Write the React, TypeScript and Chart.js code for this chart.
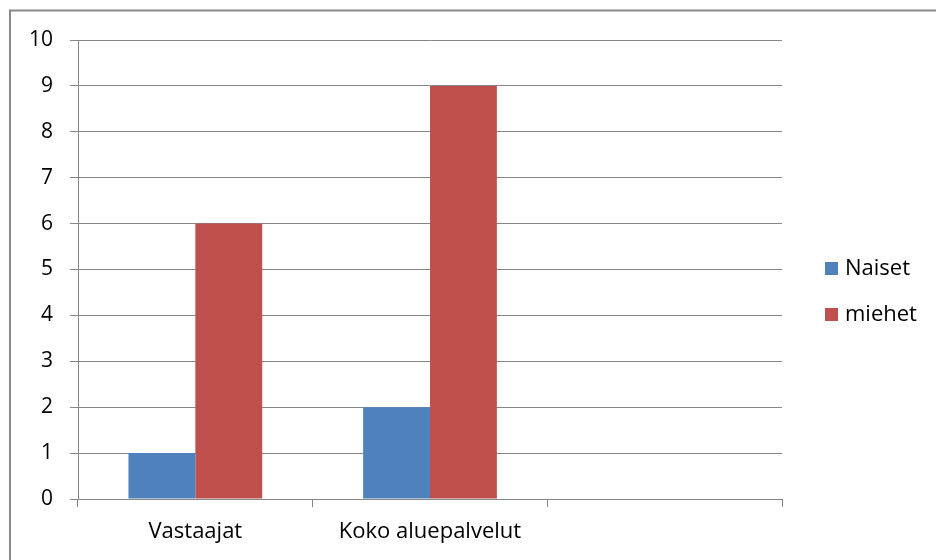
import React, { useEffect, useRef } from "react";
import { Chart, registerables } from "chart.js";

Chart.register(...registerables);

const categories = ["Vastaajat", "Koko aluepalvelut", ""];
const naiset = [1, 2, 0];
const miehet = [6, 9, 0];
const seriesNames = ["Naiset", "miehet"];
const seriesColors = ["#4F81BD", "#C0504D"];
const yTicks = [0, 1, 2, 3, 4, 5, 6, 7, 8, 9, 10];

const FONT = "'Open Sans', sans-serif";

const framePlugin = {
  id: "frame",
  beforeDraw(chart: any) {
    const ctx = chart.ctx;
    ctx.save();
    ctx.fillStyle = "#ffffff";
    ctx.fillRect(0, 0, chart.width, chart.height);
    ctx.strokeStyle = "#8a8a8a";
    ctx.lineWidth = 2;
    ctx.beginPath();
    ctx.moveTo(10, chart.height);
    ctx.lineTo(10, 10.5);
    ctx.lineTo(chart.width, 10.5);
    ctx.stroke();
    ctx.restore();
  },
  afterDraw(chart: any) {
    const ctx = chart.ctx;
    ctx.save();
    ctx.font = `22px ${FONT}`;
    ctx.textBaseline = "middle";
    ctx.fillStyle = "#000";
    const ys = [268, 314];
    chart.data.datasets.forEach((ds: any, i: number) => {
      ctx.fillStyle = ds.backgroundColor;
      ctx.fillRect(825, ys[i] - 6, 13, 13);
      ctx.fillStyle = "#000";
      ctx.fillText(ds.label, 845, ys[i] + 1);
    });
    ctx.restore();
  },
};

export default function App() {
  const ref = useRef<HTMLCanvasElement>(null);
  useEffect(() => {
    if (!ref.current) return;
    const chart = new Chart(ref.current, {
      type: "bar",
      data: {
        labels: categories,
        datasets: [
          { label: seriesNames[0], data: naiset, backgroundColor: seriesColors[0] },
          { label: seriesNames[1], data: miehet, backgroundColor: seriesColors[1] },
        ],
      },
      options: {
        responsive: false,
        animation: false,
        devicePixelRatio: 1,
        layout: { padding: { left: 0, top: 40, right: 154, bottom: 0 } },
        plugins: { legend: { display: false }, tooltip: { enabled: false } },
        datasets: { bar: { categoryPercentage: 0.57, barPercentage: 1 } },
        scales: {
          x: {
            afterFit: (s: any) => { s.height = 61; },
            grid: {
              offset: true,
              drawOnChartArea: false,
              drawTicks: true,
              tickLength: 8,
              color: "#868686",
            },
            border: { color: "#868686", width: 1 },
            ticks: { color: "#000", font: { family: FONT, size: 22 }, padding: 12, maxRotation: 0 },
          },
          y: {
            min: 0,
            max: 10,
            afterFit: (s: any) => { s.width = 78; },
            afterBuildTicks: (s: any) => { s.ticks = yTicks.map((v) => ({ value: v })); },
            grid: { color: "#868686", tickLength: 8 },
            border: { color: "#868686", width: 1 },
            ticks: { color: "#000", font: { family: FONT, size: 21 }, padding: 17 },
          },
        },
      },
      plugins: [framePlugin],
    });
    return () => chart.destroy();
  }, []);
  return (
    <div style={{ position: "fixed", left: 0, top: 0, width: 936, height: 560 }}>
      <canvas ref={ref} width={936} height={560} style={{ display: "block" }} />
    </div>
  );
}
